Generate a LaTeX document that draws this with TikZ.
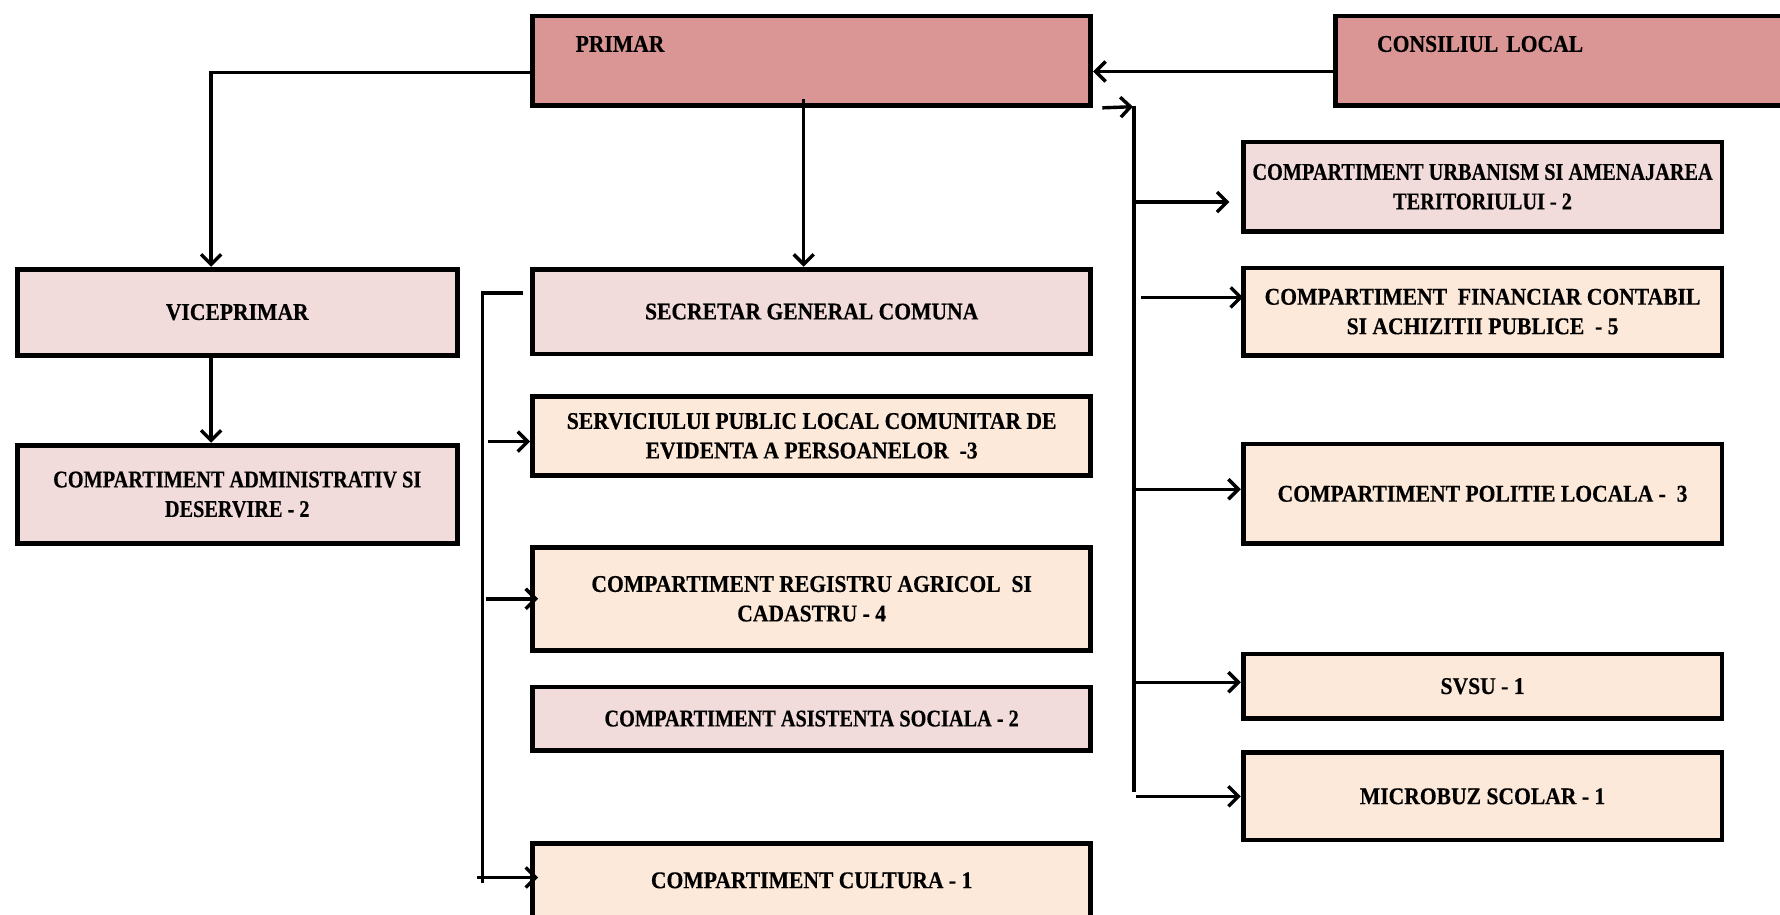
\documentclass[tikz,border=0pt]{standalone}
\usepackage{fontspec}
\setmainfont{Liberation Serif}[FakeStretch=0.9,BoldFeatures={FakeBold=0.4}]
\newfontfamily\narrowf{Liberation Serif}[FakeStretch=0.845,BoldFeatures={FakeBold=0.4}]
\usetikzlibrary{arrows.meta,calc}
\definecolor{dark}{RGB}{217,150,148}
\definecolor{lpink}{RGB}{242,220,219}
\definecolor{peach}{RGB}{253,233,217}
\begin{document}
\begin{tikzpicture}[x=0.5676pt,y=-0.5676pt,
  box/.style={draw=black,line width=2.4pt,inner sep=0pt,align=center,
    font=\fontsize{12}{14.76}\selectfont\bfseries},
  narrow/.style={font=\fontsize{12}{14.76}\selectfont\narrowf\bfseries},
  bx/.style 2 args={minimum width={(#1-4.2)*0.5676pt},minimum height={(#2-4.2)*0.5676pt}},
  pk/.style={box,fill=lpink},
  pc/.style={box,fill=peach},
  dk/.style={box,fill=dark,align=left,text height=7.9pt,text depth=16.8pt},
  conn/.style={line width=1.7pt,draw=black},
  arr/.style={conn,-{Straight Barb[length=5pt,width=10pt,line width=1.7pt]}}]
\useasboundingbox (0,0) rectangle (1568,806);
% top boxes
\node[dk,bx={496}{83},inner xsep={38*0.5676pt},text width={(491.8-76)*0.5676pt}] (primar) at (715,53.5) {PRIMAR};
\node[dk,bx={426}{83},inner xsep={37*0.5676pt},text width={(421.8-74)*0.5676pt}] (consiliu) at (1387,53.5) {CONSILIUL LOCAL};
% left column
\node[pk,bx={392}{80}] (vice) at (209,275) {VICEPRIMAR};
\node[pk,narrow,bx={392}{91}] (admin) at (209,435.5) {COMPARTIMENT ADMINISTRATIV SI\\DESERVIRE - 2};
% middle column
\node[pk,bx={496}{79}] (secretar) at (715,274.5) {SECRETAR GENERAL COMUNA};
\node[pc,bx={496}{74}] (spclep) at (715,384) {SERVICIULUI PUBLIC LOCAL COMUNITAR DE\\EVIDENTA A PERSOANELOR\ \ -3};
\node[pc,bx={496}{95}] (registru) at (715,527.5) {COMPARTIMENT REGISTRU AGRICOL\ \ SI\\CADASTRU - 4};
\node[pk,narrow,bx={496}{60}] (asist) at (715,633) {COMPARTIMENT ASISTENTA SOCIALA - 2};
\node[pc,bx={496}{69}] (cultura) at (715,775.5) {COMPARTIMENT CULTURA - 1};
% right column
\node[pk,narrow,bx={426}{83}] (urban) at (1306,164.5) {COMPARTIMENT URBANISM SI AMENAJAREA\\TERITORIULUI - 2};
\node[pc,bx={426}{81}] (finan) at (1306,274.5) {COMPARTIMENT\ \ FINANCIAR CONTABIL\\SI ACHIZITII PUBLICE\ \ - 5};
\node[pc,bx={426}{92}] (polit) at (1306,435) {COMPARTIMENT POLITIE LOCALA -\ \ 3};
\node[pc,bx={426}{61}] (svsu) at (1306,604.5) {SVSU - 1};
\node[pc,bx={426}{81}] (micro) at (1306,701.5) {MICROBUZ SCOLAR - 1};
% bus coordinates
\coordinate (rbtop) at (999,93);
\coordinate (rbbot) at (999,698);
\coordinate (lbtop) at (425,258);
\coordinate (lbbot) at (425,778);
% connectors
\draw[arr] ($(primar.west)+(0,10.5)$) -| ($(vice.north)+(-23,0)$);
\draw[arr] ($(vice.south)+(-23,0)$) -- ($(admin.north)+(-23,0)$);
\draw[arr] ($(primar.south)+(-7,-8)$) -- ($(secretar.north)+(-7,0)$);
\draw[arr] ($(consiliu.west)+(0,9.5)$) -- ($(primar.east)+(0,9.5)$);
\draw[arr] ($(primar.south east)+(8,0)$) -- ($(rbtop)+(-1,1)$);
\draw[conn] (rbtop) -- (rbbot);
\draw[arr] ($(rbtop|-urban.west)+(0,13.5)$) -- ($(urban.west)+(-10,13.5)$);
\draw[arr] ($(rbtop|-finan.west)+(6,-12.5)$) -- ($(finan.west)+(2,-12.5)$);
\draw[arr] ($(rbtop|-polit.west)+(0,-4)$) -- ($(polit.west)+(0,-4)$);
\draw[arr] ($(rbtop|-svsu.west)+(0,-3.5)$) -- ($(svsu.west)+(0,-3.5)$);
\draw[arr] ($(rbtop|-micro.west)+(2,0)$) -- (micro.west);
\draw[conn] ($(secretar.west)+(-6,-16.5)$) -- (lbtop) -- (lbbot);
\draw[arr] ($(lbtop|-spclep.west)+(5,5)$) -- ($(spclep.west)+(0,5)$);
\draw[arr] ($(lbtop|-registru.west)+(3,0)$) -- ($(registru.west)+(7,0)$);
\draw[arr] ($(lbtop|-cultura.west)+(-5,-2.5)$) -- ($(cultura.west)+(7,-2.5)$);
\end{tikzpicture}
\end{document}
